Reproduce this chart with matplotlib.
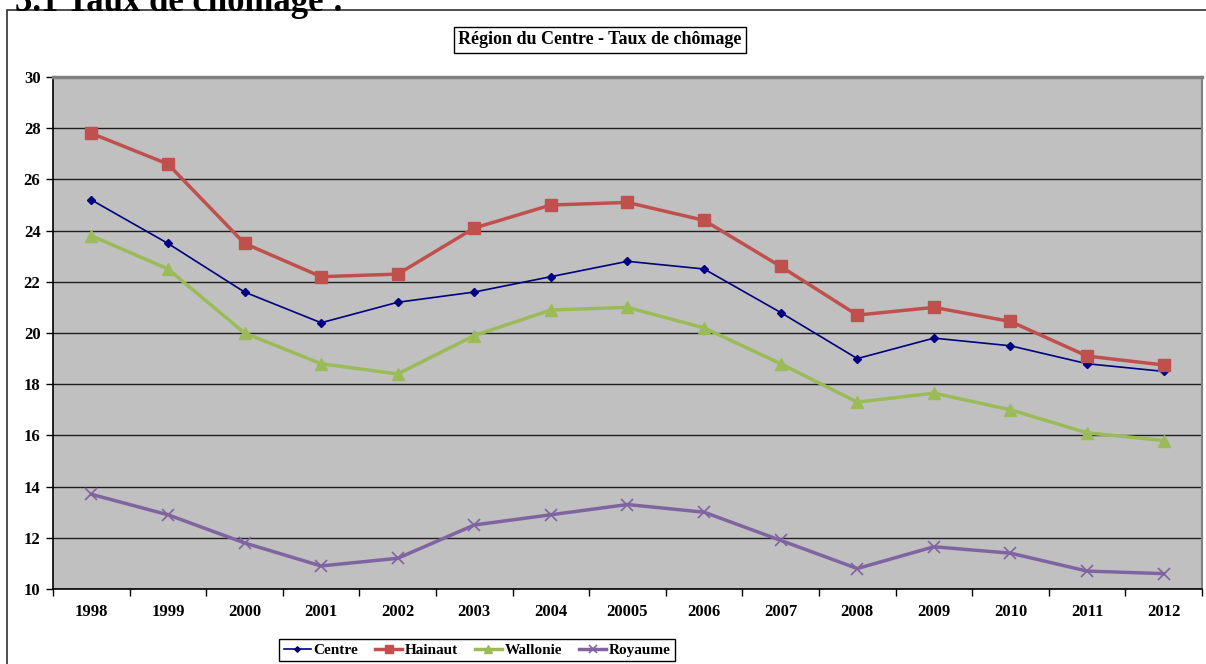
import numpy as np
import matplotlib
matplotlib.use("Agg")
import matplotlib.pyplot as plt
from matplotlib.patches import Rectangle

years = ["1998", "1999", "2000", "2001", "2002", "2003", "2004", "20005",
         "2006", "2007", "2008", "2009", "2010", "2011", "2012"]

centre = [25.2, 23.5, 21.6, 20.4, 21.2, 21.6, 22.2, 22.8, 22.5, 20.8,
          19.0, 19.8, 19.5, 18.8, 18.5]
hainaut = [27.8, 26.6, 23.5, 22.2, 22.3, 24.1, 25.0, 25.1, 24.4, 22.6,
           20.7, 21.0, 20.45, 19.1, 18.75]
wallonie = [23.8, 22.5, 20.0, 18.8, 18.4, 19.9, 20.9, 21.0, 20.2, 18.8,
            17.3, 17.65, 17.0, 16.1, 15.8]
royaume = [13.7, 12.9, 11.8, 10.9, 11.2, 12.5, 12.9, 13.3, 13.0, 11.9,
           10.8, 11.65, 11.4, 10.7, 10.6]

plt.rcParams["font.family"] = ["Liberation Serif", "DejaVu Serif"]
plt.rcParams["font.weight"] = "bold"

W, H = 1206, 664
fig = plt.figure(figsize=(W / 100, H / 100), dpi=100)

# outer chart frame (left and top edges visible)
fig.patches.append(Rectangle((7 / W, -0.05), 1.2, 1 - 10 / H + 0.05,
                             transform=fig.transFigure, fill=False,
                             edgecolor="#303030", linewidth=1.2))

# section heading, clipped at the top of the page like the source
fig.text(15 / W, 1 - 11 / H, "3.1 Taux de chômage :", fontsize=25,
         fontweight="bold", ha="left", va="baseline")

ax = fig.add_axes([53 / W, 75 / H, (1202 - 53) / W, (589 - 77) / H])
ax.set_facecolor("#C0C0C0")

x = np.arange(len(years))
ax.plot(x, centre, color="#000080", linewidth=1.2, marker="D",
        markersize=4, label="Centre")
ax.plot(x, hainaut, color="#C0504D", linewidth=2.5, marker="s",
        markersize=8, label="Hainaut")
ax.plot(x, wallonie, color="#9BBB59", linewidth=2.5, marker="^",
        markersize=8, label="Wallonie")
ax.plot(x, royaume, color="#8064A2", linewidth=2.5, marker="x",
        markersize=8, markeredgewidth=1.2, label="Royaume")

ax.set_xlim(-0.5, len(years) - 0.5)
ax.set_ylim(10, 30)
ax.set_yticks(np.arange(10, 31, 2))
ax.set_xticks(x)
ax.set_xticklabels(years)
ax.set_xticks(np.arange(-0.5, len(years), 1), minor=True)
ax.tick_params(axis="x", which="major", length=0, pad=11, labelsize=12)
ax.tick_params(axis="x", which="minor", length=5, width=1, direction="out")
ax.tick_params(axis="y", length=5, width=1, direction="out", labelsize=12,
               pad=4)
for lab in ax.get_xticklabels() + ax.get_yticklabels():
    lab.set_fontweight("bold")

ax.yaxis.grid(True, color="#202020", linewidth=1)
ax.set_axisbelow(True)

ax.spines["left"].set_color("black")
ax.spines["bottom"].set_color("black")
ax.spines["left"].set_linewidth(1.2)
ax.spines["bottom"].set_linewidth(1.2)
ax.spines["top"].set_color("#808080")
ax.spines["top"].set_linewidth(2.5)
ax.spines["right"].set_color("#808080")
ax.spines["right"].set_linewidth(1.5)

fig.text(600 / W, 1 - 40 / H, "Région du Centre - Taux de chômage",
         fontsize=13, fontweight="bold", ha="center", va="center",
         bbox=dict(boxstyle="square,pad=0.25", facecolor="white",
                   edgecolor="black", linewidth=1))

leg = fig.legend(loc="center", bbox_to_anchor=(477 / W, 1 - 650 / H),
                 ncol=4, fancybox=False, edgecolor="black", framealpha=1,
                 prop={"weight": "bold", "size": 11}, handlelength=1.8,
                 columnspacing=1.1, handletextpad=0.15, borderpad=0.3,
                 markerscale=0.7)
leg.get_frame().set_linewidth(1)

fig.savefig("out.png", dpi=100)
